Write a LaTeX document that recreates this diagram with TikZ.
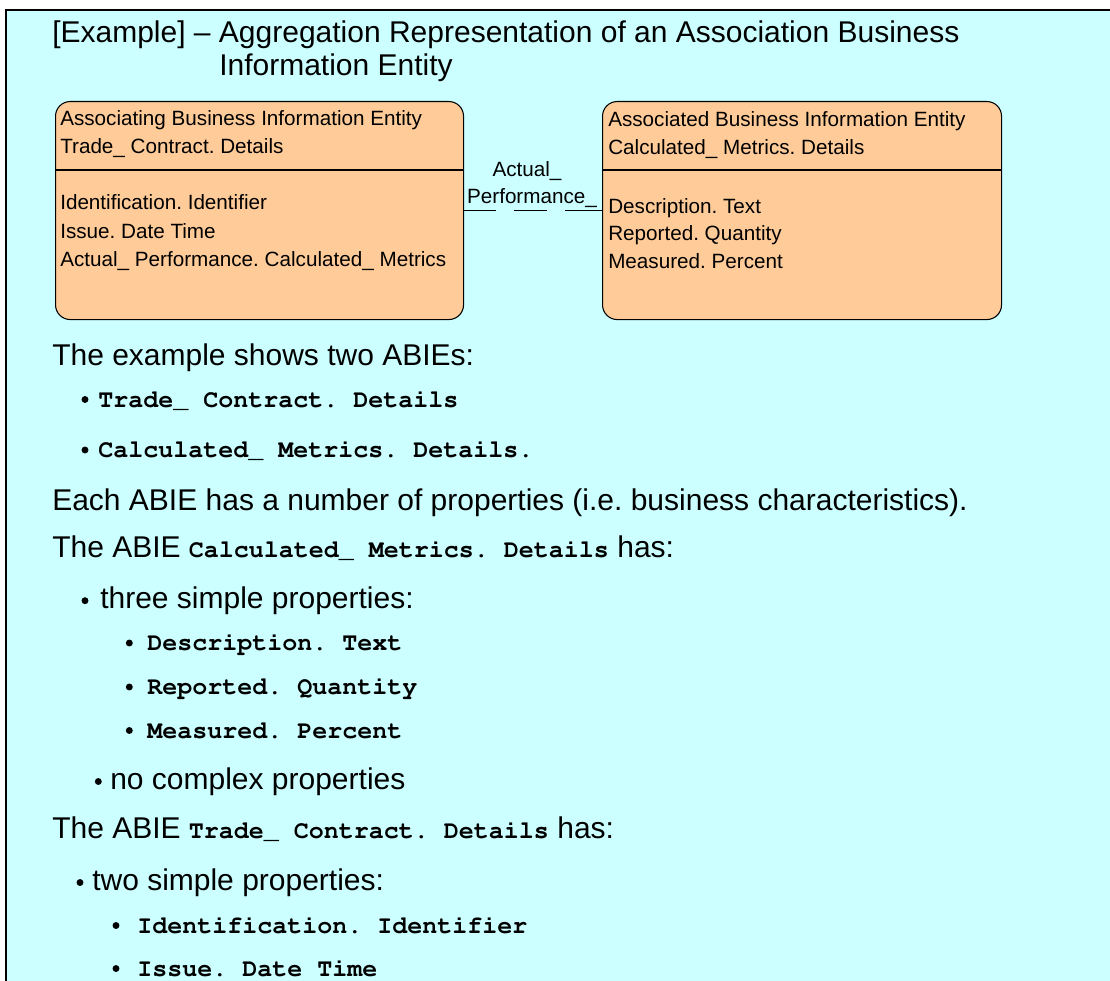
\documentclass[tikz,border=0pt]{standalone}
\usepackage[T1,TU]{fontenc}
\usepackage{fontspec}
\setmainfont{Liberation Sans}
\setmonofont{Liberation Mono}

\definecolor{panelbg}{HTML}{CCFFFF}
\definecolor{entityfill}{HTML}{FFCC99}

% type sizes (1 unit = 0.75pt)
\newcommand\txtbody{\fontsize{22.5pt}{27pt}\selectfont}
\newcommand\txtbox{\fontsize{15.5pt}{21pt}\selectfont}
\newcommand\txtcode{\fontencoding{T1}\fontfamily{pcr}\fontseries{b}\fontshape{n}\fontsize{18.75pt}{22pt}\selectfont}

\tikzset{
  plain/.style={anchor=base west, inner sep=0pt, font=\txtbody},
  code/.style={anchor=base west, inner sep=0pt, font=\txtcode},
  boxtext/.style={anchor=base west, inner sep=0pt, font=\txtbox},
  dot/.style={circle, fill=black, inner sep=0pt, minimum size=5.2pt},
  entity/.style={draw=black, fill=entityfill, line width=0.8pt,
    rounded corners=11pt, anchor=north west, inner sep=0pt,
    minimum height=163.5pt},
  divider/.style={line width=0.9pt},
  assoc/.style={line width=0.8pt,
    dash pattern=on 24pt off 13.5pt on 24.75pt off 13.5pt on 40pt}
}

\begin{document}
\frenchspacing
\begin{tikzpicture}[x=0.75pt, y=-0.75pt]
  \useasboundingbox (0,0) rectangle (1110,981);

  % slide panel with its frame on top and left
  \fill[white] (0,0) rectangle (1110,981);
  \fill[panelbg] (6,10) rectangle (1110,981);
  \draw[line width=2pt] (6,981) -- (6,10) -- (1110,10);

  % heading
  \node[plain] (title1) at (52,43) {[Example] -- Aggregation Representation of an Association Business};
  \node[plain] (title2) at (219,75) {Information Entity};

  % the two business information entities
  \node[entity, minimum width=306pt] (lbox) at (55,101) {};
  \node[entity, minimum width=299.25pt] (rbox) at (602,101) {};
  \draw[divider] (lbox.west |- 0,170) -- (lbox.east |- 0,170);
  \draw[divider] (rbox.west |- 0,170) -- (rbox.east |- 0,170);

  \node[boxtext] (l1) at (60,125) {Associating Business Information Entity};
  \node[boxtext] (l2) at (60,153) {Trade\_ Contract. Details};
  \node[boxtext] (l3) at (60,209) {Identification. Identifier};
  \node[boxtext] (l4) at (60,238) {Issue. Date Time};
  \node[boxtext] (l5) at (60,266) {Actual\_ Performance. Calculated\_ Metrics};

  \node[boxtext] (r1) at (608,127) {Associated Business Information Entity};
  \node[boxtext] (r2) at (608,154) {Calculated\_ Metrics. Details};
  \node[boxtext] (r3) at (608,213) {Description. Text};
  \node[boxtext] (r4) at (608,240) {Reported. Quantity};
  \node[boxtext] (r5) at (608,268) {Measured. Percent};

  % association between the entities
  \draw[assoc] (lbox.east) -- (rbox.west);
  \node[anchor=base, inner sep=0pt, font=\txtbox] (roleA) at (527,176) {Actual\_};
  \node[anchor=base, inner sep=0pt, font=\txtbox] (roleB) at (532,203) {Performance\_};

  % explanatory text
  \node[plain] (t1) at (52,365) {The example shows two ABIEs:};
  \node[dot] (b1) at (85,399.5) {};
  \node[code] (c1) at (98,407) {Trade\_ Contract. Details};
  \node[dot] (b2) at (85,450) {};
  \node[code] (c2) at (98,457.5) {Calculated\_ Metrics. Details.};

  \node[plain] (t2) at (52,510) {Each ABIE has a number of properties (i.e. business characteristics).};

  \node[plain] (t3) at (52,557) {The ABIE {\txtcode Calculated\_ Metrics. Details} has:};
  \node[dot] (b3) at (85,600.7) {};
  \node[plain] (t4) at (100,608) {three simple properties:};
  \node[dot] (b4) at (129.3,643) {};
  \node[code] (c3) at (147,650.5) {Description. Text};
  \node[dot] (b5) at (129.3,687) {};
  \node[code] (c4) at (147,694.5) {Reported. Quantity};
  \node[dot] (b6) at (129.3,730.5) {};
  \node[code] (c5) at (147,738) {Measured. Percent};
  \node[dot] (b7) at (98.3,781.5) {};
  \node[plain] (t5) at (110,789) {no complex properties};

  \node[plain] (t6) at (52,838) {The ABIE {\txtcode Trade\_ Contract. Details} has:};
  \node[dot] (b8) at (80,882.5) {};
  \node[plain] (t7) at (92,890) {two simple properties:};
  \node[dot] (b9) at (116,925.5) {};
  \node[code] (c6) at (137,933) {Identification. Identifier};
  \node[dot] (b10) at (116,968.5) {};
  \node[code] (c7) at (137,976) {Issue. Date Time};
\end{tikzpicture}
\end{document}
